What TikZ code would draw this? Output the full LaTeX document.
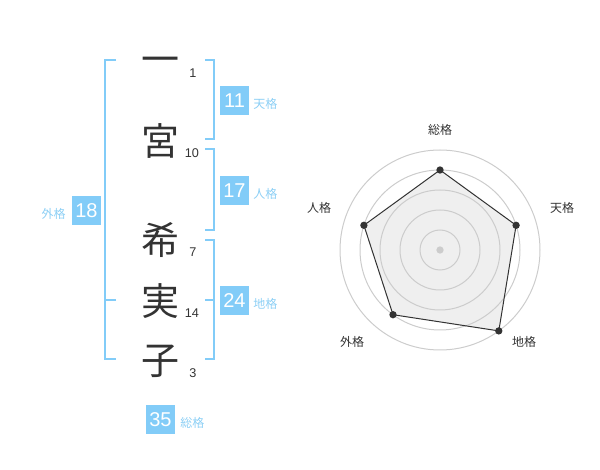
\documentclass[tikz,border=0pt]{standalone}
\usepackage{fontspec}
\setmainfont{Liberation Sans}
\newfontfamily\jp{Noto Sans CJK JP}
\definecolor{skyb}{HTML}{82CCF8}
\definecolor{skyt}{HTML}{8CCFF5}
\definecolor{ink}{HTML}{333333}
\definecolor{ring}{HTML}{CCCCCC}
\definecolor{polyfill}{HTML}{EFEFEF}
\begin{document}
\begin{tikzpicture}[x=0.75pt,y=-0.75pt,
  kanji/.style={inner sep=0pt,text=ink,font=\jp\fontsize{28.5}{28.5}\selectfont},
  stroke/.style={inner sep=0pt,text=ink,font=\fontsize{9.5}{10}\selectfont},
  numbox/.style={fill=skyb,text=white,minimum width=21.75pt,minimum height=21.75pt,inner sep=0pt,font=\fontsize{15}{15}\selectfont},
  kaku/.style={inner sep=0pt,text=skyt,font=\jp\fontsize{9}{9}\selectfont},
  brk/.style={draw=skyb,line width=1.5pt},
  rlabel/.style={inner sep=0pt,text=ink,font=\jp\fontsize{9}{9}\selectfont},
  ringc/.style={draw=ring,line width=0.75pt},
  vdot/.style={circle,fill=ink,inner sep=0pt,minimum size=5.5pt}]
\useasboundingbox (0,0) rectangle (600,470);
% name characters
\node[kanji] (k1) at (160,65) {一};
\node[kanji] (k2) at (160,141) {宮};
\node[kanji] (k3) at (160,240) {希};
\node[kanji] (k4) at (160,301) {実};
\node[kanji] (k5) at (160,361) {子};
% stroke counts
\node[stroke] (s1) at (193,73) {1};
\node[stroke] (s2) at (192,153) {10};
\node[stroke] (s3) at (193,252) {7};
\node[stroke] (s4) at (192,313) {14};
\node[stroke] (s5) at (193,373) {3};
% brackets
\coordinate (la) at (116,60); \coordinate (lb) at (116,359); \coordinate (lm) at (116,300);
\draw[brk] (la) -- (105,60) -- (105,359) -- (lb);
\draw[brk] (lm) -- (105,300);
\coordinate (ra) at (205,60); \coordinate (rb) at (205,139);
\draw[brk] (ra) -- (214,60) -- (214,139) -- (rb);
\coordinate (rc) at (205,149); \coordinate (rd) at (205,230);
\draw[brk] (rc) -- (214,149) -- (214,230) -- (rd);
\coordinate (re) at (205,240); \coordinate (rf) at (205,359); \coordinate (rm) at (205,300);
\draw[brk] (re) -- (214,240) -- (214,359) -- (rf);
\draw[brk] (rm) -- (214,300);
% number boxes
\node[numbox] (b11) at (234.5,100.5) {11};
\node[kaku,anchor=west] (t11) at (253,104) {天格};
\node[numbox] (b17) at (234.5,190.5) {17};
\node[kaku,anchor=west] (t17) at (253,194) {人格};
\node[numbox] (b24) at (234.5,300.5) {24};
\node[kaku,anchor=west] (t24) at (253,304) {地格};
\node[numbox] (b18) at (86.5,210.5) {18};
\node[kaku,anchor=east] (t18) at (66,214) {外格};
\node[numbox] (b35) at (160.5,419.5) {35};
\node[kaku,anchor=west] (t35) at (180,423) {総格};
% radar
\coordinate (c) at (440,250);
\coordinate (p1) at (440,170);
\coordinate (p2) at (516.1,225.3);
\coordinate (p3) at (498.8,330.9);
\coordinate (p4) at (393,314.7);
\coordinate (p5) at (363.9,225.3);
\fill[polyfill] (p1) -- (p2) -- (p3) -- (p4) -- (p5) -- cycle;
\foreach \r in {20,40,60,80,100} \draw[ringc] (c) circle[radius=\r];
\draw[ink,line width=0.75pt] (p1) -- (p2) -- (p3) -- (p4) -- (p5) -- cycle;
\node[circle,fill=ring,inner sep=0pt,minimum size=5.5pt] (cd) at (c) {};
\foreach \p in {p1,p2,p3,p4,p5} \node[vdot] at (\p) {};
\node[rlabel] (l1) at (440,130) {総格};
\node[rlabel] (l2) at (562,208) {天格};
\node[rlabel] (l3) at (524,342) {地格};
\node[rlabel] (l4) at (352,342) {外格};
\node[rlabel] (l5) at (319,208) {人格};
\end{tikzpicture}
\end{document}
